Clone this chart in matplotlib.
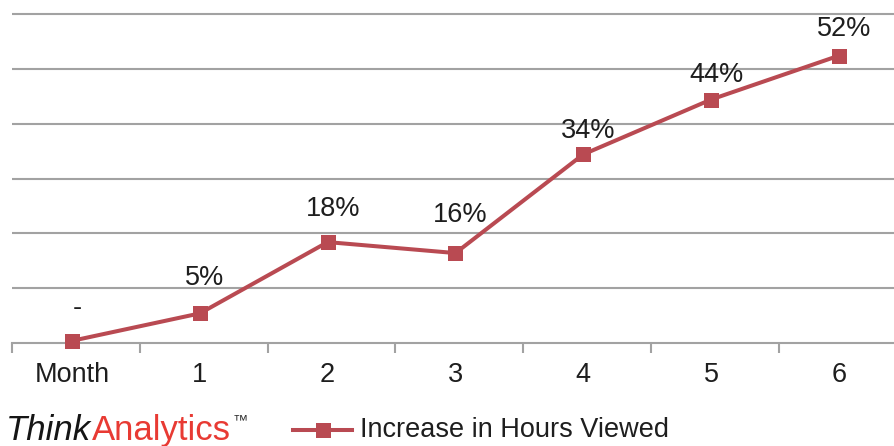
import matplotlib
matplotlib.use("Agg")
import matplotlib.pyplot as plt
from matplotlib.lines import Line2D

plt.rcParams["font.family"] = ["Liberation Sans", "DejaVu Sans"]

# Data
categories = ["Month", "1", "2", "3", "4", "5", "6"]
increase = [0, 5, 18, 16, 34, 44, 52]
value_labels = ["-", "5%", "18%", "16%", "34%", "44%", "52%"]
series_name = "Increase in Hours Viewed"

LINE_COLOR = "#b94a52"
GRID_COLOR = "#a2a2a2"
TEXT_COLOR = "#1e1e1e"
LOGO_RED = "#e83a33"

W, H = 895, 446
fig = plt.figure(figsize=(W / 100, H / 100), dpi=100)

# plot area in pixels (from top-left): left 12, bottom axis line at 343, top 8
left_px, right_px, top_px, bottom_px = 12, 895, 8, 343
ax = fig.add_axes([left_px / W, (H - bottom_px) / H,
                   (right_px - left_px) / W, (bottom_px - top_px) / H])

x = list(range(len(categories)))

# category labels at centers, tick marks at category boundaries
ax.set_xticks(x)
ax.set_xticklabels(categories, fontsize=19.5, color=TEXT_COLOR)
ax.tick_params(axis="x", which="major", length=0, pad=14)
ax.set_xticks([k - 0.47 for k in range(len(categories) + 1)], minor=True)
ax.tick_params(axis="x", which="minor", length=7, width=1.5, color=GRID_COLOR)
ax.set_yticks([])

# y scaling: 10 % steps every ~55 px, baseline slightly under zero
px_per_unit = 329 / 60
y0 = -0.4
ax.set_ylim(y0, y0 + (bottom_px - top_px) / px_per_unit)
ax.set_xlim(-0.47, -0.47 + (right_px - left_px) / 127.8)

# horizontal gridlines
for k in range(1, 7):
    ax.axhline(y0 + 10 * k, color=GRID_COLOR, lw=1.5, zorder=1)

for s in ["top", "right", "left"]:
    ax.spines[s].set_visible(False)
ax.spines["bottom"].set_color(GRID_COLOR)
ax.spines["bottom"].set_linewidth(1.5)

ax.plot(x, increase, color=LINE_COLOR, lw=2.9, marker="s", markersize=10.8,
        markeredgewidth=0, zorder=3, clip_on=False)

# value labels above points (offsets in pixels)
label_dy = [33, 35, 33, 38, 23, 25, 27]
for xi, yi, lab, dy in zip(x, increase, value_labels, label_dy):
    ax.annotate(lab, (xi, yi), xytext=(5 * 0.72, dy * 0.72),
                textcoords="offset points", ha="center", va="center",
                fontsize=19.5, color=TEXT_COLOR)

# legend sample
ly = (H - 430) / H
fig.add_artist(Line2D([293 / W, 352 / W], [ly, ly], color=LINE_COLOR, lw=2.9,
                      transform=fig.transFigure))
fig.add_artist(Line2D([323 / W], [ly], color=LINE_COLOR, marker="s",
                      markersize=10.8, markeredgewidth=0, lw=0,
                      transform=fig.transFigure))
fig.text(360 / W, ly, series_name, fontsize=19.5, color=TEXT_COLOR,
         ha="left", va="center")

# logo
base_y = (H - 440) / H
t1 = fig.text(6 / W, base_y, "Think", fontsize=25, style="italic",
              color="#151515", ha="left", va="baseline")
t2 = fig.text(0, 0, "Analytics", fontsize=25, color=LOGO_RED, ha="left",
              va="baseline")
fig.canvas.draw()
bb = t1.get_window_extent()
t2.set_position((bb.x1 / W + 1 / W, base_y))
fig.canvas.draw()
bb2 = t2.get_window_extent()
fig.text(bb2.x1 / W + 1 / W, (H - 424) / H, "\u2122", fontsize=11,
         color="#333333", ha="left", va="baseline")

fig.savefig("out.png", dpi=100)
